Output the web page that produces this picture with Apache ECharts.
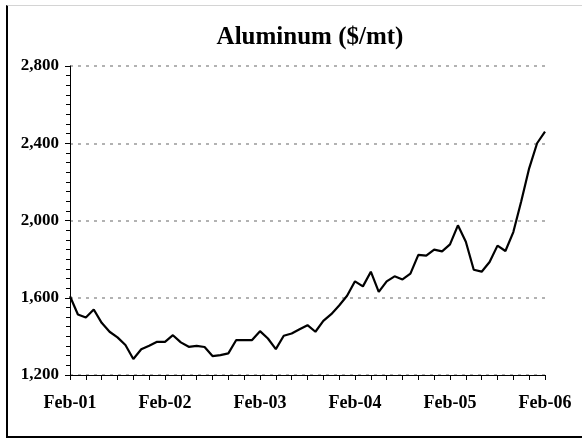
<!DOCTYPE html>
<html>
<head>
<meta charset="utf-8">
<script src="https://cdn.jsdelivr.net/npm/echarts@6/dist/echarts.min.js"></script>
<style>
  html, body { margin: 0; padding: 0; background: #ffffff; }
  #chart { position: absolute; left: 0; top: 0; width: 582px; height: 438px; }
  /* 外框：左、下黑线，上方浅灰线 */
  #frame {
    position: absolute; left: 6px; top: 5px; width: 576px; height: 430px;
    border-left: 2px solid #000; border-bottom: 2px solid #000; border-top: 1px solid #d4d4d4;
    pointer-events: none;
  }
</style>
</head>
<body>
<div id="chart"></div>
<div id="frame"></div>
<script>
// 月份与年份 -> 类目
const monthNames = ['Feb', 'Mar', 'Apr', 'May', 'Jun', 'Jul', 'Aug', 'Sep', 'Oct', 'Nov', 'Dec', 'Jan'];
const startYear = 1;
const monthCount = 61;

// 月度铝价 ($/mt)，Feb-01 .. Feb-06
const prices = [
  1608, 1513, 1498, 1539, 1470, 1424, 1395, 1355, 1283, 1333, 1351, 1372,
  1372, 1406, 1369, 1346, 1351, 1345, 1298, 1303, 1312, 1381, 1381, 1381,
  1427, 1389, 1334, 1403, 1415, 1437, 1458, 1424, 1480, 1515, 1560, 1610,
  1685, 1659, 1735, 1630, 1685, 1711, 1695, 1725, 1822, 1818, 1849, 1840,
  1876, 1975, 1890, 1745, 1735, 1785, 1870, 1842, 1940, 2100, 2270, 2400,
  2460
];

const yMin = 1200;
const yMax = 2800;
const yStep = 400;

const categories = [];
for (let i = 0; i < monthCount; i++) {
  const m = monthNames[i % 12];
  const y = startYear + Math.floor((i + 1) / 12);
  categories.push(m + '-' + String(y).padStart(2, '0'));
}

const font = '"Liberation Serif", "Times New Roman", serif';

const myChart = echarts.init(document.getElementById('chart'), null, { renderer: 'canvas' });

const option = {
  backgroundColor: '#ffffff',
  animation: false,
  title: {
    text: 'Aluminum ($/mt)',
    left: 305,
    textAlign: 'center',
    top: 20,
    textStyle: { color: '#000', fontSize: 25, fontWeight: 'bold', fontFamily: font }
  },
  grid: { left: 70, right: 37, top: 66, bottom: 63, containLabel: false },
  xAxis: {
    type: 'category',
    data: categories,
    boundaryGap: false,
    axisLine: { lineStyle: { color: '#000', width: 1 } },
    axisTick: { show: true, interval: 1, length: 5, lineStyle: { color: '#000' } },
    axisLabel: {
      interval: 11,
      margin: 19,
      color: '#000',
      fontSize: 18,
      fontWeight: 'bold',
      fontFamily: font
    },
    splitLine: { show: false }
  },
  yAxis: {
    type: 'value',
    min: yMin,
    max: yMax,
    interval: yStep,
    axisLine: { show: true, lineStyle: { color: '#000', width: 1 } },
    axisTick: { show: true, length: 5, lineStyle: { color: '#000' } },
    minorTick: { show: true, splitNumber: 8, length: 4, lineStyle: { color: '#000' } },
    axisLabel: {
      margin: 11,
      color: '#000',
      fontSize: 17,
      fontWeight: 'bold',
      fontFamily: font,
      formatter: v => v.toLocaleString('en-US')
    },
    splitLine: {
      show: true,
      lineStyle: { color: '#999', width: 1.5, type: [3, 5] }
    }
  },
  series: [
    {
      name: 'Aluminum',
      type: 'line',
      data: prices,
      showSymbol: false,
      smooth: false,
      lineStyle: { color: '#000', width: 2.2 }
    }
  ]
};

myChart.setOption(option);
</script>
</body>
</html>
